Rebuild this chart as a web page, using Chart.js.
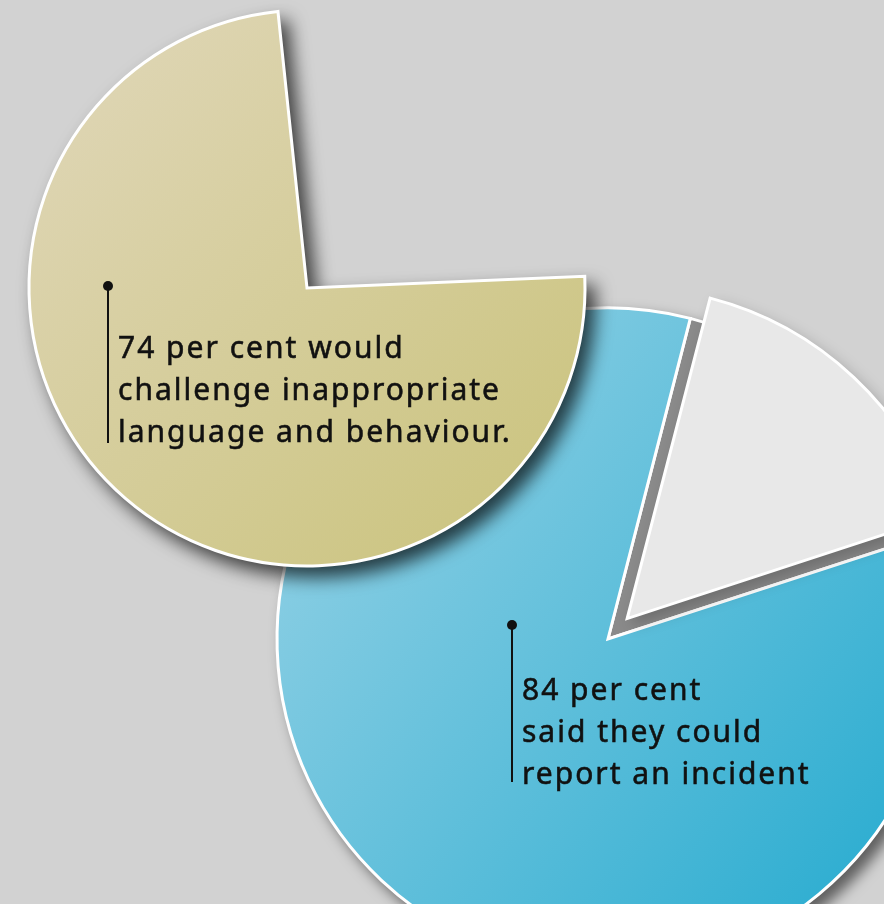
<!DOCTYPE html>
<html><head><meta charset="utf-8">
<script src="https://cdn.jsdelivr.net/npm/chart.js@4.4.0/dist/chart.umd.min.js"></script>
<style>
html,body{margin:0;padding:0;width:884px;height:904px;overflow:hidden;background:#d2d2d2;}
canvas{position:absolute;}
#blue{left:228px;top:259px;filter:drop-shadow(8px 8px 7px rgba(0,0,0,0.55));}
#slice{left:228px;top:259px;filter:drop-shadow(6px 6px 7px rgba(0,0,0,0.2));}
#tan{left:-23px;top:-42px;filter:drop-shadow(9px 10px 9px rgba(0,0,0,0.7));}
.label{position:absolute;font-family:"Noto Sans",sans-serif;font-weight:400;font-size:30px;letter-spacing:2px;line-height:42px;color:#111;white-space:nowrap;-webkit-text-stroke:0.55px #111;}
.stem{position:absolute;width:2.6px;background:#111;}
.dot{position:absolute;width:10px;height:10px;border-radius:50%;background:#111;}
</style></head><body>
<canvas id="blue" width="760" height="760"></canvas>
<canvas id="slice" width="760" height="760"></canvas>
<canvas id="tan" width="660" height="660"></canvas>
<div class="stem" style="left:106.7px;top:286px;height:157px"></div>
<div class="dot" style="left:103px;top:281px"></div>
<div class="label" id="tanLabel" style="left:118px;top:326px"></div>
<div class="stem" style="left:510.7px;top:625px;height:157px"></div>
<div class="dot" style="left:507px;top:620px"></div>
<div class="label" id="blueLabel" style="left:522px;top:668px"></div>
<script>
// ---- data ----
const tanCategories = ["Would not challenge", "Would challenge"];
const tanValues = [26, 74];
const blueCategories = ["Could not report", "Could report"];
const blueValues = [16, 84];
const tanLabelLines = ["74 per cent would", "challenge inappropriate", "language and behaviour."];
const blueLabelLines = ["84 per cent", "said they could", "report an incident"];

document.getElementById('tanLabel').innerHTML = tanLabelLines.join('<br>');
document.getElementById('blueLabel').innerHTML = blueLabelLines.join('<br>');

// colours per slice; 'GRAD' entries are replaced by a linear gradient
function sliceColors(list, gx0, gy0, gx1, gy1, c0, c1) {
  let grad = null;
  return (ctx) => {
    const v = list[ctx.dataIndex];
    if (v !== 'GRAD') return v;
    const chart = ctx.chart;
    if (!grad) {
      grad = chart.ctx.createLinearGradient(gx0, gy0, gx1, gy1);
      grad.addColorStop(0, c0);
      grad.addColorStop(1, c1);
    }
    return grad;
  };
}

// Chart.js arc translates an offset slice by offset/4 and enlarges its
// radius by offset/4 * (1 - sin(circumference)).
const EXPLODE_PX = 28;
function radiusGrowth(px, share) {
  const circ = Math.min(Math.PI, share / 100 * 2 * Math.PI);
  return px * (1 - Math.sin(circ));
}

function makePie(id, labels, values, colorFn, borders, offsets, rotation, radius) {
  return new Chart(document.getElementById(id), {
    type: 'pie',
    data: {
      labels: labels,
      datasets: [{
        data: values,
        backgroundColor: colorFn,
        borderColor: '#ffffff',
        borderWidth: (ctx) => borders[ctx.dataIndex],
        borderJoinStyle: 'miter',
        offset: (ctx) => offsets[ctx.dataIndex]
      }]
    },
    options: {
      responsive: false,
      animation: false,
      events: [],
      rotation: rotation,
      radius: radius,
      layout: { padding: 0 },
      plugins: { legend: { display: false }, tooltip: { enabled: false } }
    }
  });
}

const T = 'rgba(0,0,0,0)';
const BLUE_R = 331;
// blue pie (canvas at page 228,259; centre page 608,639)
makePie('blue', blueCategories, blueValues,
  sliceColors(['#8a8a8a', 'GRAD'], 280 - 228, 420 - 259, 900 - 228, 900 - 259, '#93d1e5', '#29acd0'),
  [3, 3], [0, 0], 14.4, BLUE_R);
// exploded light slice
makePie('slice', blueCategories, blueValues,
  sliceColors(['#e8e8e8', T]), [3, 0], [EXPLODE_PX * 4, 0], 14.4,
  BLUE_R - radiusGrowth(EXPLODE_PX, blueValues[0]));
// tan pie (canvas at page -23,-42; centre page 307,288)
makePie('tan', tanCategories, tanValues,
  sliceColors([T, 'GRAD'], 40 + 23, 20 + 42, 560 + 23, 560 + 42, '#e0d7b9', '#cac37c'),
  [0, 3], [0, 0], -6, 278);
</script>
</body></html>
